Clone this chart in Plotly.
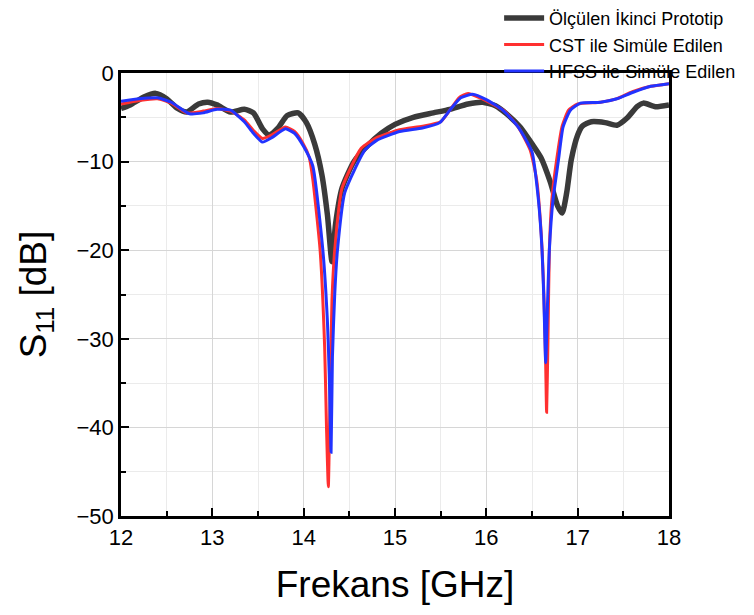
import plotly.graph_objects as go

# Measured (Ölçülen İkinci Prototip)
meas_f = [12.0, 12.1, 12.25, 12.38, 12.5, 12.62, 12.72, 12.85, 12.95, 13.05, 13.2, 13.35, 13.45,
          13.55, 13.62, 13.72, 13.82, 13.94, 14.03, 14.12, 14.2, 14.26, 14.31, 14.35, 14.42, 14.55,
          14.7, 14.85, 15.0, 15.2, 15.42, 15.6, 15.8, 15.96, 16.1, 16.22, 16.37, 16.5, 16.6, 16.7,
          16.78, 16.83, 16.88, 16.93, 17.0, 17.05, 17.15, 17.3, 17.43, 17.55, 17.65, 17.72, 17.85, 18.0]
meas_s11 = [-4.0, -3.6, -2.7, -2.3, -2.9, -4.0, -4.4, -3.5, -3.3, -3.6, -4.4, -4.1, -4.5,
            -6.3, -7.0, -6.2, -4.8, -4.5, -5.6, -8.0, -11.5, -16.0, -21.3, -17.0, -13.0, -10.0,
            -8.2, -6.8, -5.8, -5.0, -4.5, -4.1, -3.5, -3.3, -3.7, -4.6, -6.1, -8.0, -9.6, -12.3,
            -15.0, -15.8, -13.5, -9.8, -7.0, -6.0, -5.5, -5.6, -5.9, -5.0, -3.8, -3.4, -3.8, -3.6]

# CST simulation
cst_f = [12.0, 12.2, 12.4, 12.55, 12.72, 12.9, 13.05, 13.2, 13.35, 13.45, 13.55, 13.65, 13.8,
         13.9, 13.99, 14.06, 14.1, 14.18, 14.23, 14.25, 14.27, 14.29, 14.31, 14.34, 14.42, 14.63,
         14.8, 15.05, 15.3, 15.5, 15.6, 15.7, 15.8, 15.95, 16.1, 16.2, 16.35, 16.48, 16.55, 16.6,
         16.63, 16.65, 16.66, 16.675, 16.69, 16.72, 16.77, 16.83, 16.9, 17.0, 17.25, 17.43, 17.6,
         17.8, 18.0]
cst_s11 = [-3.5, -3.1, -2.9, -3.4, -4.5, -4.3, -4.0, -4.3, -5.3, -6.5, -7.4, -7.0, -6.1,
           -6.6, -7.9, -9.5, -12.0, -20.0, -31.0, -40.0, -46.7, -36.0, -25.6, -20.0, -13.0, -8.5,
           -7.3, -6.4, -6.0, -5.5, -4.2, -2.8, -2.3, -2.9, -3.7, -4.3, -6.1, -8.7, -12.0, -18.0,
           -25.0, -33.0, -38.3, -30.0, -20.0, -14.0, -9.8, -6.0, -4.2, -3.5, -3.3, -2.9, -2.1,
           -1.5, -1.2]

# HFSS simulation
hfss_f = [12.0, 12.2, 12.4, 12.55, 12.75, 12.9, 13.05, 13.2, 13.35, 13.45, 13.55, 13.65, 13.8,
          13.9, 14.0, 14.1, 14.21, 14.26, 14.28, 14.3, 14.315, 14.34, 14.37, 14.45, 14.67, 14.8,
          15.05, 15.3, 15.49, 15.6, 15.72, 15.85, 16.0, 16.18, 16.35, 16.5, 16.57, 16.61, 16.63,
          16.65, 16.67, 16.69, 16.73, 16.79, 16.84, 16.92, 17.03, 17.25, 17.43, 17.6, 17.8, 18.0]
hfss_s11 = [-3.2, -2.9, -2.8, -3.3, -4.6, -4.5, -4.1, -4.2, -5.5, -6.8, -7.8, -7.3, -6.3,
            -6.8, -8.3, -10.5, -20.0, -28.0, -34.0, -42.8, -32.0, -25.0, -20.0, -13.5, -8.7, -7.6,
            -6.6, -6.2, -5.6, -4.2, -2.8, -2.4, -3.0, -4.2, -6.1, -8.9, -14.3, -20.0, -25.6,
            -32.7, -26.0, -20.0, -14.3, -9.8, -6.1, -4.2, -3.4, -3.3, -2.9, -2.2, -1.5, -1.2]

x_ticks = [12, 13, 14, 15, 16, 17, 18]
y_ticks = [0, -10, -20, -30, -40, -50]

FONT = "Liberation Sans, Arial, sans-serif"

fig = go.Figure()
fig.add_trace(go.Scatter(x=meas_f, y=meas_s11, mode="lines", name="Ölçülen İkinci Prototip",
                         line=dict(color="#3a3a3a", width=5.5, shape="spline", smoothing=0.6)))
fig.add_trace(go.Scatter(x=cst_f, y=cst_s11, mode="lines", name="CST ile Simüle Edilen",
                         line=dict(color="#ff3030", width=3, shape="spline", smoothing=0.5)))
fig.add_trace(go.Scatter(x=hfss_f, y=hfss_s11, mode="lines", name="HFSS ile Simüle Edilen",
                         line=dict(color="#2233ff", width=3, shape="spline", smoothing=0.5)))

axis_common = dict(
    showline=True, linecolor="black", linewidth=2.5, mirror=True,
    ticks="inside", ticklen=8, tickwidth=2, tickcolor="black",
    showgrid=True, gridcolor="#d6d6d6", gridwidth=1, zeroline=False,
    tickfont=dict(family=FONT, size=22, color="black"),
)

fig.update_xaxes(range=[12, 18], tickvals=x_ticks, ticktext=[str(v) for v in x_ticks],
                 minor=dict(dtick=0.5, tick0=12, ticks="inside", ticklen=5, tickwidth=2,
                            tickcolor="black", showgrid=True, gridcolor="#ebebeb"),
                 title=dict(text="Frekans [GHz]", font=dict(family=FONT, size=37, color="black"),
                            standoff=22),
                 **axis_common)
fig.update_yaxes(range=[-50, 0], tickvals=y_ticks,
                 minor=dict(dtick=5, tick0=0, ticks="inside", ticklen=5, tickwidth=2,
                            tickcolor="black", showgrid=True, gridcolor="#ebebeb"),
                 title=dict(text="S<sub>11</sub> [dB]", font=dict(family=FONT, size=37, color="black"),
                            standoff=19),
                 **axis_common)

fig.update_layout(
    width=746, height=607,
    margin=dict(l=113, r=85, t=65, b=99, autoexpand=False),
    paper_bgcolor="white", plot_bgcolor="white",
    font=dict(family=FONT, color="black"),
    legend=dict(x=0.69, xanchor="left", y=1.165, yanchor="top",
                font=dict(family=FONT, size=18, color="black"),
                bgcolor="rgba(0,0,0,0)", itemwidth=40, tracegroupgap=0),
    showlegend=True,
)

fig.write_html("out.html")
